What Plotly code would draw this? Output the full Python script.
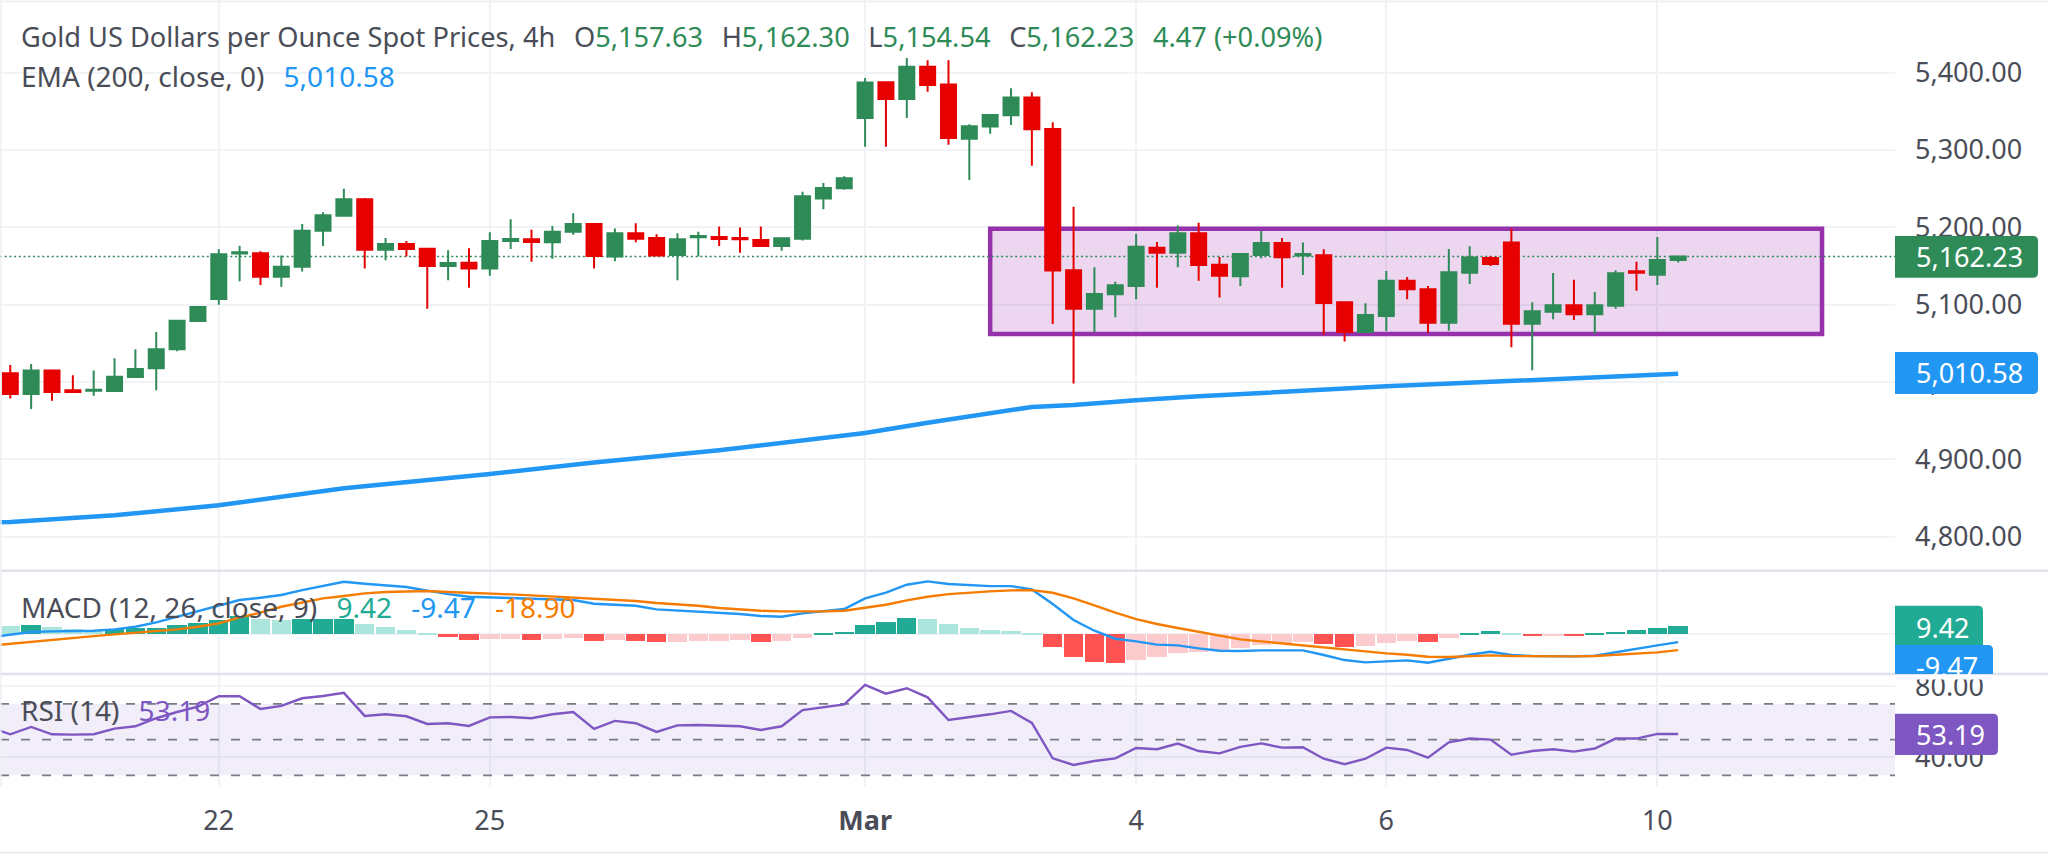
import plotly.graph_objects as go

W, H = 2048, 854
PLOT_RIGHT = 1895
X_RANGE = [-0.494, 90.4]

GREEN = "#2e8b57"
RED = "#e60000"
BLUE = "#2196f3"
ORANGE = "#f57c00"
TEAL = "#22ab94"
PURPLE = "#7e57c2"
TEXT = "#4a4d57"
GRID = "#f1f3f7"
SEP = "#e0e3eb"
FONT = "Noto Sans"

opens = [
    5011.2, 4984.5, 5014.7, 4989.2, 4988.8, 4988.4, 5006.5, 5017.7, 5042.3, 5078.9,
    5107.3, 5166.0, 5166.4, 5136.2, 5149.1, 5195.7, 5215.1, 5236.2, 5171.1, 5178.4,
    5172.4, 5150.0, 5154.3, 5146.6, 5182.3, 5184.5, 5180.6, 5194.4, 5204.3, 5162.1,
    5192.2, 5186.2, 5164.2, 5187.1, 5187.5, 5186.2, 5183.6, 5175.9, 5185.3, 5237.1,
    5250.4, 5341.4, 5387.5, 5365.9, 5407.7, 5384.5, 5314.6, 5330.2, 5344.8, 5367.7,
    5327.1, 5144.4, 5094.8, 5113.4, 5124.1, 5173.7, 5167.2, 5192.2, 5151.7, 5136.6,
    5164.2, 5179.7, 5163.4, 5163.8, 5103.0, 5064.7, 5085.4, 5131.0, 5119.8, 5076.7,
    5141.4, 5160.3, 5180.2, 5075.4, 5090.9, 5099.1, 5087.5, 5098.7, 5143.1, 5138.8,
    5157.63,
]
highs = [
    5022.0, 5023.3, 5015.5, 5008.6, 5014.7, 5030.6, 5042.3, 5064.7, 5079.8, 5098.3,
    5171.6, 5176.3, 5169.0, 5163.4, 5204.3, 5219.4, 5250.0, 5237.9, 5186.2, 5182.3,
    5173.7, 5170.3, 5172.8, 5193.5, 5210.3, 5197.0, 5201.7, 5218.1, 5205.2, 5198.3,
    5205.2, 5190.9, 5192.2, 5194.4, 5200.9, 5199.6, 5200.9, 5185.8, 5246.1, 5257.3,
    5265.9, 5393.1, 5388.8, 5418.9, 5415.9, 5415.9, 5333.2, 5346.5, 5379.7, 5374.6,
    5335.8, 5226.7, 5148.3, 5129.7, 5191.4, 5181.0, 5202.2, 5206.0, 5161.6, 5166.4,
    5195.3, 5186.2, 5180.2, 5171.6, 5104.3, 5101.7, 5143.5, 5135.8, 5124.1, 5172.0,
    5175.4, 5162.9, 5198.3, 5103.0, 5140.9, 5132.3, 5116.4, 5144.4, 5155.6, 5187.5,
    5162.30,
]
lows = [
    4978.5, 4965.1, 4975.9, 4987.1, 4982.3, 4987.1, 5005.2, 4989.2, 5039.7, 5077.6,
    5100.0, 5130.2, 5125.4, 5123.3, 5142.7, 5175.9, 5214.7, 5146.6, 5157.3, 5162.1,
    5094.8, 5131.5, 5122.0, 5137.5, 5172.0, 5155.6, 5159.5, 5190.5, 5146.6, 5156.0,
    5180.6, 5163.4, 5131.5, 5162.1, 5175.9, 5167.2, 5175.9, 5169.8, 5182.8, 5223.3,
    5248.7, 5304.3, 5304.3, 5341.4, 5375.4, 5306.9, 5261.2, 5321.1, 5332.3, 5279.7,
    5075.0, 4997.9, 5064.7, 5083.6, 5106.9, 5122.0, 5148.3, 5131.0, 5109.1, 5124.1,
    5159.9, 5122.0, 5138.4, 5060.8, 5052.2, 5062.9, 5066.0, 5106.9, 5063.8, 5066.4,
    5126.7, 5150.0, 5044.8, 5015.1, 5081.0, 5080.2, 5062.1, 5094.8, 5118.1, 5125.4,
    5154.54,
]
closes = [
    4984.5, 5014.7, 4987.1, 4987.1, 4990.1, 5006.9, 5016.8, 5042.3, 5079.3, 5097.0,
    5165.1, 5167.7, 5136.2, 5149.1, 5195.7, 5215.5, 5236.2, 5171.1, 5178.4, 5172.0,
    5150.0, 5153.9, 5146.6, 5182.3, 5184.9, 5181.0, 5194.4, 5204.3, 5162.9, 5192.2,
    5185.3, 5163.4, 5184.5, 5188.8, 5184.9, 5184.5, 5175.9, 5185.8, 5240.1, 5250.9,
    5263.4, 5387.1, 5365.9, 5407.7, 5384.0, 5315.5, 5330.6, 5345.2, 5367.7, 5326.7,
    5144.0, 5094.8, 5113.8, 5125.0, 5175.0, 5167.2, 5192.2, 5151.3, 5137.5, 5165.5,
    5179.7, 5161.2, 5165.5, 5102.2, 5064.7, 5086.6, 5131.0, 5119.8, 5076.7, 5141.8,
    5160.8, 5152.6, 5075.4, 5091.4, 5099.1, 5087.5, 5099.1, 5140.5, 5141.4, 5157.8,
    5162.23,
]

ema_bars = [-1, 0, 5, 10, 16, 23, 28, 34, 41, 44, 49, 51, 54, 57, 66, 73, 80]
ema_vals = [
    4818.0, 4819.0, 4827.6, 4840.5, 4862.5, 4881.0, 4896.0, 4911.6, 4934.0, 4947.4,
    4967.7, 4970.3, 4976.3, 4981.5, 4994.4, 5003.0, 5010.58,
]

hist = [
    10.2, 11.4, 8.6, 6.7, 5.5, 6.7, 7.4, 7.8, 10.6, 13.3,
    17.2, 21.6, 18.0, 16.5, 17.6, 17.8, 18.0, 12.5, 8.6, 5.5,
    0.8, -3.5, -7.1, -5.5, -5.1, -7.1, -5.9, -4.3, -7.8, -7.1,
    -8.2, -9.4, -9.0, -7.8, -7.4, -7.1, -9.0, -7.8, -4.7, 1.2,
    2.4, 11.0, 14.5, 18.8, 17.6, 12.5, 7.4, 5.5, 4.3, 0.8,
    -14.5, -26.7, -32.2, -33.7, -30.2, -26.7, -22.0, -20.8, -18.0, -16.5,
    -12.2, -10.6, -9.4, -11.0, -14.5, -14.1, -9.8, -7.4, -9.0, -4.7,
    1.2, 3.5, 1.2, -2.4, -2.0, -2.4, 1.2, 3.1, 5.5, 7.4,
    9.42,
]
# the three line series start one bar left of the first candle
macd_line = [
    -3.9,
    -0.8, 2.4, 3.1, 3.5, 3.9, 5.5, 8.6, 13.7, 20.4, 27.4,
    33.3, 40.0, 42.7, 45.9, 51.7, 56.4, 61.5, 59.2, 57.2, 55.3,
    51.0, 47.0, 43.9, 43.1, 42.3, 41.6, 41.2, 40.0, 35.7, 34.9,
    33.3, 29.0, 27.8, 26.3, 25.1, 23.5, 21.2, 20.4, 24.3, 27.0,
    29.4, 41.9, 48.6, 58.0, 61.9, 58.8, 57.2, 56.4, 56.4, 52.5,
    35.3, 16.5, 3.9, -5.5, -8.6, -12.5, -13.3, -16.9, -19.6, -20.0,
    -19.2, -19.2, -19.2, -24.7, -30.6, -33.3, -31.8, -31.0, -33.7, -29.0,
    -24.3, -20.8, -24.7, -25.9, -26.3, -26.3, -25.5, -21.2, -17.6, -13.3,
    -9.47,
]
signal_line = [
    -13.7,
    -11.4, -8.6, -6.3, -4.3, -2.4, -0.4, 1.6, 3.1, 5.5, 8.6,
    12.5, 19.6, 25.1, 32.1, 37.2, 41.9, 44.7, 47.8, 49.4, 50.2,
    50.6, 49.4, 48.2, 47.4, 46.6, 45.5, 44.3, 43.1, 41.9, 40.4,
    38.8, 36.5, 34.9, 33.3, 30.6, 29.0, 27.4, 26.7, 26.3, 26.7,
    27.4, 30.6, 34.5, 39.6, 43.9, 47.0, 49.0, 50.2, 51.4, 51.7,
    48.6, 41.9, 33.7, 25.1, 17.6, 11.8, 7.1, 2.4, -2.4, -6.3,
    -8.6, -11.0, -12.9, -15.7, -18.0, -20.8, -22.7, -24.3, -26.7, -27.0,
    -25.9, -25.1, -25.9, -26.3, -26.3, -26.3, -25.9, -24.7, -23.5, -21.6,
    -18.90,
]
rsi = [
    57.1,
    53.0, 57.1, 53.0, 52.8, 53.0, 56.2, 57.5, 62.0, 65.5, 68.5,
    74.3, 74.3, 67.2, 68.9, 73.2, 74.5, 76.2, 63.3, 64.2, 63.1,
    58.8, 59.2, 57.7, 62.5, 62.7, 62.0, 64.2, 65.5, 56.0, 60.5,
    59.2, 54.3, 58.0, 58.2, 57.7, 57.5, 55.4, 57.5, 66.6, 68.0,
    69.8, 80.7, 75.8, 78.8, 73.7, 61.0, 62.5, 64.2, 66.1, 59.4,
    39.5, 35.8, 38.0, 39.5, 45.3, 44.6, 47.8, 43.6, 42.3, 45.9,
    47.9, 45.5, 45.7, 39.3, 36.2, 39.3, 45.5, 44.2, 39.9, 48.5,
    50.6, 50.0, 41.6, 43.6, 44.6, 43.3, 45.0, 50.6, 50.6, 53.2,
    53.19,
]

date_bars = [10, 23, 41, 54, 66, 79]
date_labels = ["22", "25", "<b>Mar</b>", "4", "6", "10"]
price_ticks = [4800, 4900, 5000, 5100, 5200, 5300, 5400]
rsi_grid = [40, 80]
rsi_dashes = [30, 50, 70]

bars = list(range(len(closes)))
line_bars = [-1] + bars


def px(x):
    return x / W


def py(y):
    return 1 - y / H


def hist_colour(i):
    prev = hist[i - 1] if i else hist[i] + 1
    if hist[i] >= 0:
        return "#22ab94" if hist[i] > prev else "#ace5dc"
    return "#ff5252" if hist[i] < prev else "#fccbcd"


def tag(x1, y0, y1, colour, round_top=True, round_bottom=True):
    r = 5
    parts = [f"M{px(PLOT_RIGHT)},{py(y0)}"]
    if round_top:
        parts += [f"L{px(x1 - r)},{py(y0)}", f"Q{px(x1)},{py(y0)} {px(x1)},{py(y0 + r)}"]
    else:
        parts += [f"L{px(x1)},{py(y0)}"]
    if round_bottom:
        parts += [f"L{px(x1)},{py(y1 - r)}", f"Q{px(x1)},{py(y1)} {px(x1 - r)},{py(y1)}"]
    else:
        parts += [f"L{px(x1)},{py(y1)}"]
    parts += [f"L{px(PLOT_RIGHT)},{py(y1)}", "Z"]
    return dict(type="path", path=" ".join(parts), xref="paper", yref="paper",
                fillcolor=colour, line=dict(width=0), layer="above")


def hline(y, width=2.5, colour=SEP):
    return dict(type="line", xref="paper", yref="paper", x0=0, x1=1, y0=py(y), y1=py(y),
                line=dict(color=colour, width=width), layer="above")


def label(x, y, text, size=27, colour=TEXT):
    return dict(xref="paper", yref="paper", x=px(x), y=py(y), text=text, showarrow=False,
                xanchor="left", yanchor="middle", borderpad=0,
                font=dict(family=FONT, size=size, color=colour))


def span(text, colour):
    return f'<span style="color:{colour}">{text}</span>'


gap = "\u00a0\u00a0\u2009"

fig = go.Figure()

fig.add_trace(go.Candlestick(
    x=bars, open=opens, high=highs, low=lows, close=closes,
    whiskerwidth=0, xaxis="x", yaxis="y",
    increasing=dict(line=dict(color=GREEN, width=2), fillcolor=GREEN),
    decreasing=dict(line=dict(color=RED, width=2), fillcolor=RED),
    showlegend=False, hoverinfo="skip",
))
fig.add_trace(go.Scatter(x=ema_bars, y=ema_vals, mode="lines", xaxis="x", yaxis="y",
                         line=dict(color=BLUE, width=4.5), showlegend=False))

fig.add_trace(go.Bar(x=bars, y=hist, width=0.93, xaxis="x", yaxis="y2",
                     marker=dict(color=[hist_colour(i) for i in bars], line=dict(width=0)),
                     showlegend=False))
fig.add_trace(go.Scatter(x=line_bars, y=macd_line, mode="lines", xaxis="x", yaxis="y2",
                         line=dict(color=BLUE, width=2.4), showlegend=False))
fig.add_trace(go.Scatter(x=line_bars, y=signal_line, mode="lines", xaxis="x", yaxis="y2",
                         line=dict(color=ORANGE, width=2.4), showlegend=False))
fig.add_trace(go.Scatter(x=line_bars, y=rsi, mode="lines", xaxis="x", yaxis="y3",
                         line=dict(color=PURPLE, width=2.4), showlegend=False))

shapes = [
    dict(type="rect", xref="x", yref="y", x0=47, x1=86.9, y0=5062, y1=5198,
         fillcolor="rgba(156,39,176,0.19)", line=dict(color="#9431ab", width=4.5), layer="between"),
    dict(type="line", xref="x", yref="y", x0=X_RANGE[0], x1=X_RANGE[1], y0=closes[-1], y1=closes[-1],
         line=dict(color=GREEN, width=1.6, dash="2px,2.7px"), layer="between"),
    dict(type="rect", xref="x", yref="y3", x0=X_RANGE[0], x1=X_RANGE[1], y0=rsi_dashes[0], y1=rsi_dashes[-1],
         fillcolor="rgba(126,87,194,0.1)", line=dict(width=0), layer="between"),
]
for level in rsi_dashes:
    shapes.append(dict(type="line", xref="x", yref="y3", x0=X_RANGE[0], x1=X_RANGE[1], y0=level, y1=level,
                       line=dict(color="#787b86", width=1.7, dash="9px,12px"), layer="between"))
shapes += [
    hline(570.7), hline(674), hline(1.5, 2, "#eef0f4"), hline(852.7, 2.5, "#eceef2"),
    dict(type="line", xref="paper", yref="paper", x0=px(1), x1=px(1), y0=py(0), y1=py(786),
         line=dict(color="#eef0f4", width=1.5), layer="above"),
    tag(2038, 236, 277.7, GREEN),
    tag(2038, 352, 394, BLUE),
    tag(1983, 605.7, 650, TEAL),
    tag(1993, 645, 674, BLUE, round_bottom=False),
    tag(1998, 713.7, 755, PURPLE),
]

annotations = [
    label(20, 36, "Gold US Dollars per Ounce Spot Prices, 4h" + gap + "O" + span("5,157.63", GREEN) + gap
          + "H" + span("5,162.30", GREEN) + gap + "L" + span("5,154.54", GREEN) + gap
          + "C" + span("5,162.23", GREEN) + gap + span("4.47 (+0.09%)", GREEN), size=27.2),
    label(20, 76, "EMA (200, close, 0)" + gap + span("5,010.58", BLUE), size=28),
    label(20, 606.5, "MACD (12, 26, close, 9)" + gap + span("9.42", TEAL) + gap
          + span("-9.47", BLUE) + gap + span("-18.90", ORANGE), size=28),
    label(20, 710, "RSI (14)" + gap + span("53.19", PURPLE), size=28),
    label(1914.6, 256.5, "5,162.23", colour="white"),
    label(1914.6, 373, "5,010.58", colour="white"),
    label(1914.6, 627, "9.42", colour="white"),
    label(1914.6, 666.7, "-9.47", colour="white"),
    # the blue tag is cut off by the pane edge, so hide the foot of its text
    dict(xref="paper", yref="paper", x=px(PLOT_RIGHT), y=py(675), text=" ", showarrow=False,
         xanchor="left", yanchor="top", width=98, height=3, borderpad=0, bgcolor="white"),
    label(1914.6, 734, "53.19", colour="white"),
]

axis_style = dict(showline=False, zeroline=False, ticks="", gridcolor=GRID, gridwidth=2,
                  side="right", anchor="x", ticklabelstandoff=19, automargin=False,
                  tickfont=dict(family=FONT, size=27, color=TEXT))

fig.update_layout(
    width=W, height=H, autosize=False,
    margin=dict(l=0, r=0, t=0, b=0),
    paper_bgcolor="white", plot_bgcolor="white",
    font=dict(family=FONT, color=TEXT),
    hovermode=False, bargap=0, boxgap=0.28, boxgroupgap=0, showlegend=False,
    shapes=shapes, annotations=annotations,
    xaxis=dict(domain=[0, px(PLOT_RIGHT)], range=X_RANGE, anchor="y3", automargin=False,
               rangeslider=dict(visible=False), showline=False, zeroline=False, ticks="",
               tickmode="array", tickvals=date_bars, ticktext=date_labels,
               gridcolor=GRID, gridwidth=2, ticklabelstandoff=16,
               tickfont=dict(family=FONT, size=27, color=TEXT)),
    yaxis=dict(domain=[py(570.7), 1], range=[4756, 5493.9], tickmode="array",
               tickvals=price_ticks, tickformat=",.2f", **axis_style),
    yaxis2=dict(domain=[py(674), py(570.7)], range=[-47, 74.5], tickmode="array",
                tickvals=[0], showticklabels=False, **axis_style),
    yaxis3=dict(domain=[py(786), py(674)], range=[24, 86.8], tickmode="array",
                tickvals=rsi_grid, tickformat=".2f", **axis_style),
)

fig.write_html("out.html", config=dict(displayModeBar=False),
               post_script="document.body.style.margin = '0';")
